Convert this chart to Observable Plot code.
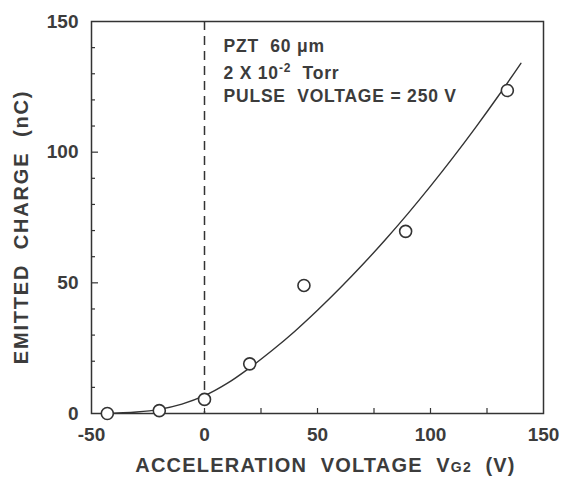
<!DOCTYPE html>
<html><head><meta charset="utf-8">
<script src="https://cdn.jsdelivr.net/npm/d3@7"></script>
<script src="https://cdn.jsdelivr.net/npm/@observablehq/plot@0.6"></script>
<style>body{margin:0;background:#fff}</style>
</head><body><div id="chart"></div>
<script>
const pointX = [-43, -20, 0, 20, 44, 89, 134];
const pointY = [0, 1.1, 5.4, 19, 49, 69.7, 123.6];
const curveX = [-45, -30, -20, -10, 0, 10, 20, 30, 40, 50, 60, 70, 80, 90, 100, 110, 120, 130, 140];
const curveY = [0, 0.6, 1.6, 3.6, 6.8, 11.5, 17.5, 24.2, 31.5, 39.5, 48, 57, 66.5, 76.5, 87, 98, 109.5, 121.5, 134];
const xTicks = [-50, 0, 50, 100, 150];
const xMinor = [0, 25, 50, 75, 100, 125];
const yTicks = [0, 50, 100, 150];
const yMajorInner = [50, 100];
const yMinor = [10, 20, 30, 40, 60, 70, 80, 90, 110, 120, 130, 140];
const notes = ["PZT  60 \u03bcm", "2 X 10-2 Torr", "PULSE  VOLTAGE = 250 V"];
const xTitle = "ACCELERATION  VOLTAGE  VG2  (V)";
const yTitle = "EMITTED  CHARGE  (nC)";

const ink = "#333";
const textInk = "#3c3c3c";
const points = pointX.map((x, i) => ({x, y: pointY[i]}));
const curve = curveX.map((x, i) => ({x, y: curveY[i]}));
const innerH = 480 - 21 - 67;
const innerW = 563 - 91 - 20;

const chart = Plot.plot({
  width: 563,
  height: 480,
  marginLeft: 91,
  marginRight: 20,
  marginTop: 21,
  marginBottom: 67,
  style: {fontFamily: "Liberation Sans, Arial, sans-serif", fontWeight: "bold", color: ink, background: "#fff"},
  x: {domain: [-50, 150]},
  y: {domain: [0, 150]},
  marks: [
    Plot.frame({stroke: ink, strokeWidth: 1.5}),
    Plot.axisX({ticks: xTicks, tickSize: 0, tickPadding: 14, fontSize: 19, label: null, fill: textInk, tickFormat: d => String(d)}),
    Plot.axisY({ticks: yTicks, tickSize: 0, tickPadding: 13, fontSize: 19, label: null, fill: textInk, tickFormat: d => String(d)}),
    Plot.ruleX(xMinor, {x: d => d, insetTop: innerH - 5, stroke: ink, strokeWidth: 1.2}),
    Plot.ruleY(yMajorInner, {y: d => d, insetRight: innerW - 7, stroke: ink, strokeWidth: 1.2}),
    Plot.ruleY(yMinor, {y: d => d, insetRight: innerW - 4, stroke: ink, strokeWidth: 1.2}),
    Plot.ruleX([0], {stroke: ink, strokeWidth: 1.5, strokeDasharray: "9,6"}),
    Plot.line(curve, {x: "x", y: "y", curve: "catmull-rom", stroke: ink, strokeWidth: 1.4}),
    Plot.dot(points, {x: "x", y: "y", r: 6, fill: "#fff", stroke: ink, strokeWidth: 1.6}),
    Plot.text(notes, {frameAnchor: "top-left", text: d => d, className: "note"}),
    Plot.text([xTitle], {frameAnchor: "bottom", dx: 8, dy: 58, fontSize: 20, fill: textInk, className: "xtitle"}),
    Plot.text([yTitle], {frameAnchor: "left", fontSize: 20, fill: textInk, className: "ytitle"})
  ]
});
document.getElementById("chart").append(chart);

const svg = d3.select(chart);
svg.selectAll("g.note text").each(function(d, i) {
  const t = d3.select(this);
  t.attr("font-size", 17.5).attr("fill", textInk).attr("text-anchor", "start").attr("letter-spacing", 0.8)
   .attr("transform", null).attr("x", 223).attr("y", [51, 78, 101][i]).attr("dy", null);
  if (i === 1) {
    t.text(null);
    t.append("tspan").text("2 X 10");
    t.append("tspan").attr("dy", -7).attr("font-size", 12).text("-2");
    t.append("tspan").attr("dy", 7).text("  Torr");
  }
});
svg.selectAll("g.xtitle text").each(function() {
  const t = d3.select(this);
  t.attr("letter-spacing", 1.2);
  t.text(null);
  t.append("tspan").text("ACCELERATION  VOLTAGE  V");
  t.append("tspan").attr("font-size", 14).text("G2");
  t.append("tspan").text("  (V)");
});
svg.selectAll("g.ytitle").attr("transform", null);
svg.selectAll("g.ytitle text")
  .attr("x", null).attr("y", null)
  .attr("transform", "translate(28,227) rotate(-90)")
  .attr("text-anchor", "middle").attr("dy", null)
  .attr("letter-spacing", 1.8);
</script>
</body></html>
